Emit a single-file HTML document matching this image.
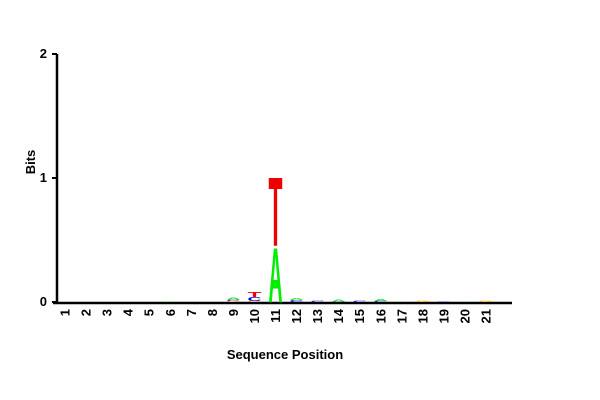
<!DOCTYPE html>
<html><head><meta charset="utf-8"><style>
html,body{margin:0;padding:0;background:#fff;}
svg{display:block;font-family:"Liberation Sans",sans-serif;}
</style></head><body>
<svg id="chart" width="600" height="400">
<g id="axes"></g>
<g id="marks"></g>
</svg>
<script>
const positions = ["1","2","3","4","5","6","7","8","9","10","11","12","13","14","15","16","17","18","19","20","21"];
const yTicks = [0,1,2];
// per-position stacks bottom->top: [letter, bits]
const stacks = [
 [],[],[],[],[],[["A",0.003]],[],[],
 [["G",0.01],["C",0.01],["A",0.015]],
 [["G",0.01],["C",0.03],["T",0.04]],
 [["A",0.45],["T",0.57]],
 [["C",0.015],["A",0.015]],
 [["C",0.012]],
 [["C",0.006],["A",0.015]],
 [["C",0.01]],
 [["C",0.01],["A",0.015]],
 [["A",0.004]],
 [["G",0.012]],
 [["C",0.006]],
 [["A",0.004]],
 [["G",0.012]]
];
const colors = {A:"#00ee00",C:"#0000ee",G:"#ffa500",T:"#ee0000"};
const svg = document.getElementById('chart');
const axes = document.getElementById('axes');
const marks = document.getElementById('marks');
const NS = "http://www.w3.org/2000/svg";
const x0 = 57, x1 = 512, yBase = 302, pxPerBit = 124;
const firstX = 65, step = 21.05;
function xPos(i){ return firstX + i*step; }
function yPos(v){ return yBase - v*pxPerBit; }
function mk(tag, attrs, parent){ const e=document.createElementNS(NS,tag); for(const k in attrs) e.setAttribute(k,attrs[k]); parent.appendChild(e); return e; }

const ya = mk('line',{x1:x0,y1:yPos(2),x2:x0,y2:yBase+1,stroke:'#000','stroke-width':2.5},axes);


const xa = mk('line',{x1:x0-4,y1:yBase+1,x2:x1,y2:yBase+1,stroke:'#000','stroke-width':2.5},axes);


yTicks.forEach(v=>{
  const t = mk('line',{x1:x0-5,y1:yPos(v),x2:x0,y2:yPos(v),stroke:'#000','stroke-width':2},axes);
  
  
  const l = mk('text',{x:47,y:yPos(v)+4,'text-anchor':'end','font-size':13,'font-weight':'bold'},axes);
  l.textContent = v;
  
  
});
positions.forEach((p,i)=>{
  const l = mk('text',{transform:`translate(${xPos(i)+4.5},${yBase+7}) rotate(-90)`,'text-anchor':'end','font-size':13,'font-weight':'bold'},axes);
  l.textContent = p;
  
  
});
const yt = mk('text',{transform:'translate(35,162) rotate(-90)','text-anchor':'middle','font-size':13,'font-weight':'bold'},axes);
yt.textContent='Bits';


const xt = mk('text',{x:285,y:359,'text-anchor':'middle','font-size':13,'font-weight':'bold'},axes);
xt.textContent='Sequence Position';



const W = 14;
stacks.forEach((st,i)=>{
  let cum = 0;
  st.forEach(([ch,v])=>{
    const h = v*pxPerBit; if(h<=0) return;
    const yb = yPos(cum);
    const t = mk('text',{x:0,y:0,'font-size':100,'font-weight':'bold',fill:colors[ch],textLength:100,lengthAdjust:'spacingAndGlyphs',
      transform:`translate(${xPos(i)-W/2},${yb}) scale(${W/100},${h/72})`},marks);
    t.textContent = ch;
    
    
    cum += v;
  });
});
</script>
</body></html>
